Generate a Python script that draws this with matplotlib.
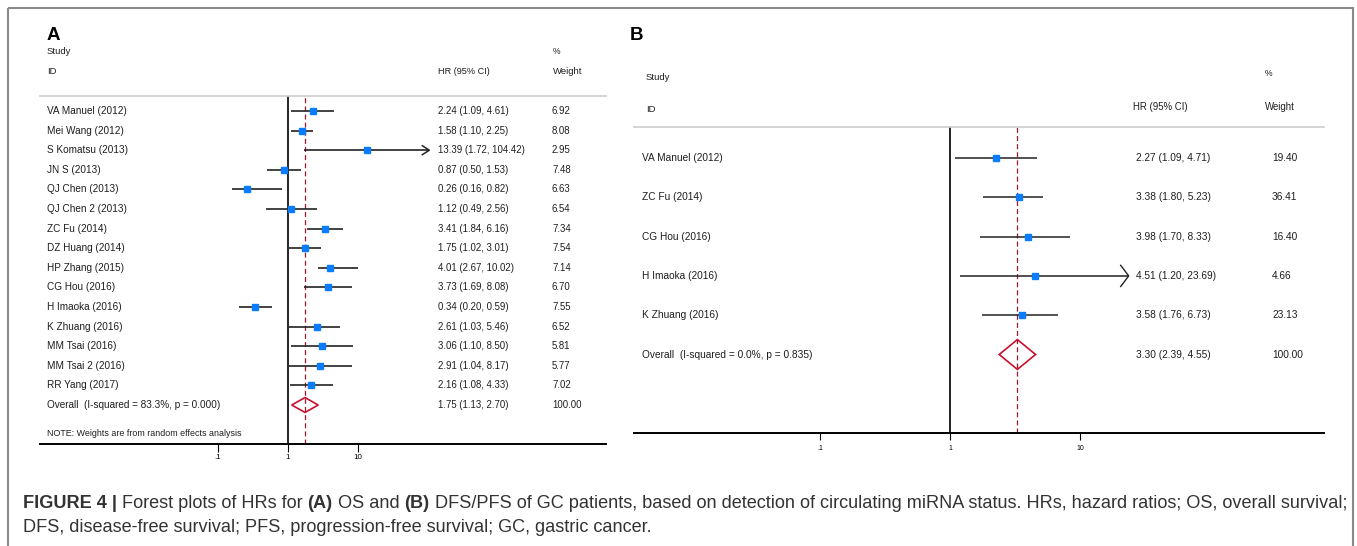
import matplotlib
matplotlib.use("Agg")
import matplotlib.pyplot as plt
import matplotlib.transforms as mtrans
from matplotlib.patches import Rectangle, Polygon
from matplotlib.ticker import NullLocator

plt.rcParams['font.family'] = ['Liberation Sans', 'DejaVu Sans']

# ---------------- data ----------------
studies_a = ["VA Manuel (2012)", "Mei Wang (2012)", "S Komatsu (2013)", "JN S (2013)",
             "QJ Chen (2013)", "QJ Chen 2 (2013)", "ZC Fu (2014)", "DZ Huang (2014)",
             "HP Zhang (2015)", "CG Hou (2016)", "H Imaoka (2016)", "K Zhuang (2016)",
             "MM Tsai (2016)", "MM Tsai 2 (2016)", "RR Yang (2017)"]
hr_a = [2.24, 1.58, 13.39, 0.87, 0.26, 1.12, 3.41, 1.75, 4.01, 3.73, 0.34, 2.61, 3.06, 2.91, 2.16]
lo_a = [1.09, 1.10, 1.72, 0.50, 0.16, 0.49, 1.84, 1.02, 2.67, 1.69, 0.20, 1.03, 1.10, 1.04, 1.08]
hi_a = [4.61, 2.25, 104.42, 1.53, 0.82, 2.56, 6.16, 3.01, 10.02, 8.08, 0.59, 5.46, 8.50, 8.17, 4.33]
weight_a = [6.92, 8.08, 2.95, 7.48, 6.63, 6.54, 7.34, 7.54, 7.14, 6.70, 7.55, 6.52, 5.81, 5.77, 7.02]
arrow_a = ["S Komatsu (2013)"]
overall_a = [1.75, 1.13, 2.70]
overall_weight_a = 100.00
overall_label_a = "Overall  (I-squared = 83.3%, p = 0.000)"
note_a = "NOTE: Weights are from random effects analysis"

studies_b = ["VA Manuel (2012)", "ZC Fu (2014)", "CG Hou (2016)", "H Imaoka (2016)", "K Zhuang (2016)"]
hr_b = [2.27, 3.38, 3.98, 4.51, 3.58]
lo_b = [1.09, 1.80, 1.70, 1.20, 1.76]
hi_b = [4.71, 5.23, 8.33, 23.69, 6.73]
weight_b = [19.40, 36.41, 16.40, 4.66, 23.13]
arrow_b = ["H Imaoka (2016)"]
overall_b = [3.30, 2.39, 4.55]
overall_weight_b = 100.00
overall_label_b = "Overall  (I-squared = 0.0%, p = 0.835)"

xticks = [0.1, 1, 10]
xtick_labels = [".1", "1", "10"]

caption_line1 = [("FIGURE 4 |", "bold"), (" Forest plots of HRs for ", "normal"), ("(A)", "bold"),
                 (" OS and ", "normal"), ("(B)", "bold"),
                 (" DFS/PFS of GC patients, based on detection of circulating miRNA status. HRs, hazard ratios; OS, overall survival;", "normal")]
caption_line2 = [("DFS, disease-free survival; PFS, progression-free survival; GC, gastric cancer.", "normal")]

# ---------------- figure ----------------
W, H = 1357, 546
fig = plt.figure(figsize=(W / 100, H / 100), dpi=100)
bg = fig.add_axes([0, 0, 1, 1], zorder=0)
bg.set_xlim(0, W)
bg.set_ylim(H, 0)
bg.axis('off')

BLUE = '#0a7cff'
RED = '#c8102e'
DRED = '#a3162e'
TXT = '#1e1e1e'
GRID = '#cccccc'


def make_panel(x0, x1, y0, y1, xlim, ylim):
    ax = fig.add_axes([x0 / W, 1 - y1 / H, (x1 - x0) / W, (y1 - y0) / H], zorder=1)
    ax.patch.set_alpha(0)
    ax.set_xscale('log')
    ax.set_xlim(*xlim)
    ax.set_ylim(*ylim)
    for s in ['left', 'right']:
        ax.spines[s].set_visible(False)
    ax.spines['bottom'].set_linewidth(1.4)
    ax.spines['bottom'].set_color('black')
    ax.spines['top'].set_linewidth(1.2)
    ax.spines['top'].set_color(GRID)
    ax.set_yticks([])
    ax.set_xticks(xticks)
    ax.set_xticklabels(xtick_labels)
    ax.xaxis.set_minor_locator(NullLocator())
    return ax


def draw_forest(ax, studies, hr, lo, hi, arrows, overall, ci_lw, msize, chev_dx, chev_dy):
    n = len(studies)
    rows = list(range(n))
    ax.axvline(1, color='black', lw=1.2, zorder=2)
    ax.axvline(overall[0], color=DRED, lw=0.9, ls=(0, (4, 2.5)), zorder=2)
    for i in rows:
        ax.plot([lo[i], hi[i]], [i, i], color='#222222', lw=ci_lw, solid_capstyle='butt', zorder=3)
        if studies[i] in arrows:
            tip = hi[i]
            back = tip / (10 ** chev_dx)
            ax.plot([back, tip, back], [i - chev_dy, i, i + chev_dy], color='#222222', lw=ci_lw * 0.9, zorder=3)
    ax.plot(hr, rows, ls='none', marker='s', ms=msize, color=BLUE, mec=BLUE, zorder=4)
    est, olo, ohi = overall
    h = 0.38
    dia = Polygon([[olo, n], [est, n - h], [ohi, n], [est, n + h]], closed=True,
                  fill=False, edgecolor=RED, lw=1.2, zorder=4)
    ax.add_patch(dia)


# ---------------- panel A ----------------
a_x0, a_x1, a_one, a_dec = 40, 606, 288, 70.0
a_y0, a_y1, a_r0, a_dr = 96, 444, 111, 19.6
xlim_a = (10 ** ((a_x0 - a_one) / a_dec), 10 ** ((a_x1 - a_one) / a_dec))
ylim_a = ((a_y1 - a_r0) / a_dr, (a_y0 - a_r0) / a_dr)
axA = make_panel(a_x0, a_x1, a_y0, a_y1, xlim_a, ylim_a)
axA.tick_params(axis='x', direction='out', length=5.5, width=0.8, labelsize=5.8, pad=1.5, colors='black')
draw_forest(axA, studies_a, hr_a, lo_a, hi_a, arrow_a, overall_a, 1.2, 4.4, 0.1, 0.23)

trA = mtrans.blended_transform_factory(bg.transData, axA.transData)
fsA = 7.2
for i, name in enumerate(studies_a):
    axA.text(47, i, name, transform=trA, fontsize=fsA, va='center', ha='left', color=TXT)
    axA.text(438, i, f"{hr_a[i]:.2f} ({lo_a[i]:.2f}, {hi_a[i]:.2f})", transform=trA,
             fontsize=6.9, va='center', ha='left', color=TXT)
    axA.text(552, i, f"{weight_a[i]:.2f}", transform=trA, fontsize=6.9, va='center', ha='left', color=TXT)
nA = len(studies_a)
axA.text(47, nA, overall_label_a, transform=trA, fontsize=fsA, va='center', ha='left', color=TXT)
axA.text(438, nA, f"{overall_a[0]:.2f} ({overall_a[1]:.2f}, {overall_a[2]:.2f})", transform=trA,
         fontsize=6.9, va='center', ha='left', color=TXT)
axA.text(552, nA, f"{overall_weight_a:.2f}", transform=trA, fontsize=6.9, va='center', ha='left', color=TXT)

bg.text(47, 35, "A", fontsize=13.5, fontweight='bold', va='center', ha='left', color='black')
bg.text(47, 52, "Study", fontsize=6.8, va='center', ha='left', color=TXT)
bg.text(47, 72, "ID", fontsize=6.8, va='center', ha='left', color=TXT)
bg.text(553, 52, "%", fontsize=6.2, va='center', ha='left', color=TXT)
bg.text(438, 72, "HR (95% CI)", fontsize=6.6, va='center', ha='left', color=TXT)
bg.text(553, 72, "Weight", fontsize=6.8, va='center', ha='left', color=TXT)
bg.text(47, 434, note_a, fontsize=6.4, va='center', ha='left', color=TXT)

# ---------------- panel B ----------------
b_x0, b_x1, b_one, b_dec = 634, 1324, 950, 130.0
b_y0, b_y1, b_r0, b_dr = 127, 433, 158, 39.3
xlim_b = (10 ** ((b_x0 - b_one) / b_dec), 10 ** ((b_x1 - b_one) / b_dec))
ylim_b = ((b_y1 - b_r0) / b_dr, (b_y0 - b_r0) / b_dr)
axB = make_panel(b_x0, b_x1, b_y0, b_y1, xlim_b, ylim_b)
axB.tick_params(axis='x', direction='out', length=5, width=0.8, labelsize=5.0, pad=4, colors='black')
draw_forest(axB, studies_b, hr_b, lo_b, hi_b, arrow_b, overall_b, 1.1, 5.0, 0.0615, 0.27)

trB = mtrans.blended_transform_factory(bg.transData, axB.transData)
fsB = 7.3
for i, name in enumerate(studies_b):
    axB.text(642, i, name, transform=trB, fontsize=fsB, va='center', ha='left', color=TXT)
    axB.text(1136, i, f"{hr_b[i]:.2f} ({lo_b[i]:.2f}, {hi_b[i]:.2f})", transform=trB,
             fontsize=fsB, va='center', ha='left', color=TXT)
    axB.text(1272, i, f"{weight_b[i]:.2f}", transform=trB, fontsize=fsB, va='center', ha='left', color=TXT)
nB = len(studies_b)
axB.text(642, nB, overall_label_b, transform=trB, fontsize=fsB, va='center', ha='left', color=TXT)
axB.text(1136, nB, f"{overall_b[0]:.2f} ({overall_b[1]:.2f}, {overall_b[2]:.2f})", transform=trB,
         fontsize=fsB, va='center', ha='left', color=TXT)
axB.text(1272, nB, f"{overall_weight_b:.2f}", transform=trB, fontsize=fsB, va='center', ha='left', color=TXT)

bg.text(630, 35, "B", fontsize=13.5, fontweight='bold', va='center', ha='left', color='black')
bg.text(646, 78, "Study", fontsize=6.8, va='center', ha='left', color=TXT)
bg.text(646, 109, "ID", fontsize=6.8, va='center', ha='left', color=TXT)
bg.text(1265, 74, "%", fontsize=6.2, va='center', ha='left', color=TXT)
bg.text(1133, 107, "HR (95% CI)", fontsize=6.9, va='center', ha='left', color=TXT)
bg.text(1265, 107, "Weight", fontsize=6.9, va='center', ha='left', color=TXT)

# ---------------- border ----------------
bg.add_patch(Rectangle((8, 8), 1345, 600, fill=False, edgecolor='#8a8a8a', lw=1.5))

# ---------------- caption ----------------
renderer = fig.canvas.get_renderer()
CAP = '#333333'


def line_width(segs, size):
    total = 0.0
    for txt, wt in segs:
        t = bg.text(0, 0, txt, fontsize=size, fontweight=wt)
        total += t.get_window_extent(renderer).width
        t.remove()
    return total


def draw_line(segs, x0, y, size):
    x = x0
    for txt, wt in segs:
        t = bg.text(x, y, txt, fontsize=size, fontweight=wt, va='center', ha='left', color=CAP)
        x += t.get_window_extent(renderer).width


cap_size = 12.0 * (1324.0 / line_width(caption_line1, 12.0))
draw_line(caption_line1, 23, 503, cap_size)
draw_line(caption_line2, 23, 528, cap_size)

fig.savefig("out.png", dpi=100)
